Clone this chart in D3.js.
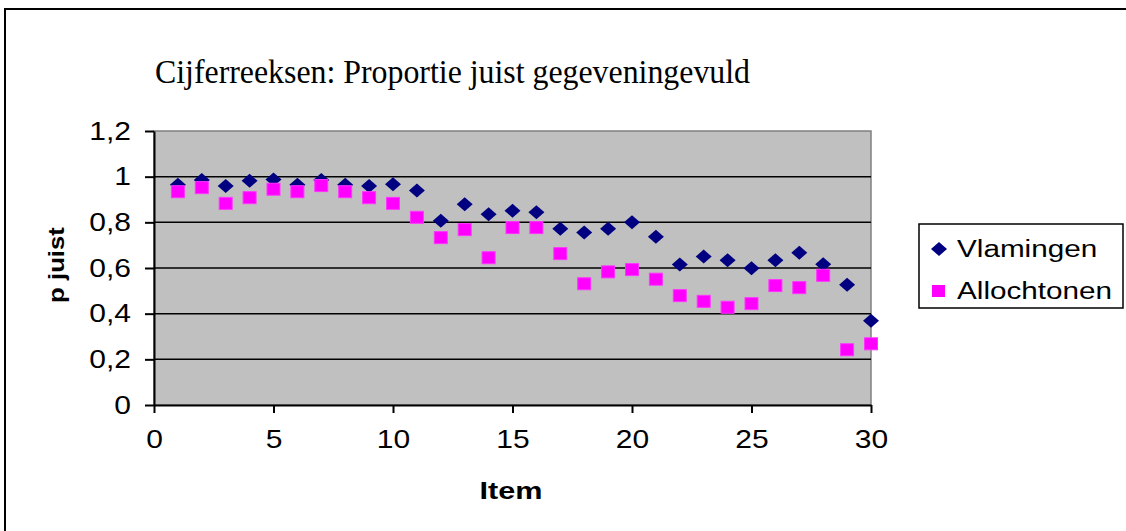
<!DOCTYPE html>
<html>
<head>
<meta charset="utf-8">
<script src="https://cdn.jsdelivr.net/npm/d3@7"></script>
<style>
  body { margin: 0; background: #fff; }
  text { font-family: Arial, "Liberation Sans", sans-serif; }
</style>
</head>
<body>
<svg id="drawing_region"></svg>
<script>
// data
const items = d3.range(1, 31);
const vlamingen = [0.965, 0.985, 0.959, 0.982, 0.988, 0.965, 0.985, 0.965, 0.959, 0.967,
                   0.939, 0.807, 0.879, 0.835, 0.851, 0.844, 0.772, 0.755, 0.772, 0.800,
                   0.737, 0.615, 0.650, 0.634, 0.599, 0.634, 0.667, 0.616, 0.527, 0.369];
const allochtonen = [0.934, 0.952, 0.883, 0.908, 0.945, 0.934, 0.961, 0.934, 0.908, 0.883,
                     0.822, 0.733, 0.768, 0.645, 0.777, 0.777, 0.663, 0.531, 0.583, 0.593,
                     0.551, 0.479, 0.454, 0.428, 0.444, 0.523, 0.514, 0.568, 0.242, 0.268];
const xTicks = [0, 5, 10, 15, 20, 25, 30];
const yTicks = [0, 0.2, 0.4, 0.6, 0.8, 1, 1.2];
const seriesNames = ["Vlamingen", "Allochtonen"];

const W = 1126, H = 531;
const margin = {top: 131, right: 255, bottom: 126, left: 154};
const innerW = W - margin.left - margin.right;
const innerH = H - margin.top - margin.bottom;

// the source picture has its text stretched sideways
function stretch(sel, k) {
    sel.each(function () {
        const len = this.getComputedTextLength();
        d3.select(this)
            .attr('textLength', len * k)
            .attr('lengthAdjust', 'spacingAndGlyphs');
    });
}

const svg = d3.select('#drawing_region')
    .attr('width', W)
    .attr('height', H);

// outer frame (top and left edges visible)
svg.append('path')
    .attr('d', `M5,${H} L5,9 L${W},9`)
    .attr('fill', 'none')
    .attr('stroke', '#000')
    .attr('stroke-width', 2);

svg.append('text')
    .attr('x', 155)
    .attr('y', 83)
    .attr('textLength', 595)
    .attr('lengthAdjust', 'spacingAndGlyphs')
    .style('font-family', '"Liberation Serif", "Times New Roman", serif')
    .style('font-size', '33px')
    .text('Cijferreeksen: Proportie juist gegeveningevuld');

const chart = svg.append('g')
    .attr('transform', `translate(${margin.left}, ${margin.top})`);

const xscale = d3.scaleLinear().domain([0, 30]).range([0, innerW]);
const yscale = d3.scaleLinear().domain([0, 1.2]).range([innerH, 0]);

chart.append('rect')
    .attr('width', innerW)
    .attr('height', innerH)
    .attr('fill', '#c0c0c0')
    .attr('stroke', '#808080')
    .attr('stroke-width', 1.5);

// gridlines
chart.selectAll('.grid')
    .data(yTicks.filter(d => d > 0 && d < 1.2))
    .enter()
    .append('line')
    .attr('x1', 0)
    .attr('x2', innerW)
    .attr('y1', d => yscale(d))
    .attr('y2', d => yscale(d))
    .attr('stroke', '#000')
    .attr('stroke-width', 1.5);

const fmt = d => String(+d.toFixed(1)).replace('.', ',');

const xaxis = d3.axisBottom(xscale).tickValues(xTicks).tickSize(8).tickSizeOuter(0).tickPadding(17);
const yaxis = d3.axisLeft(yscale).tickValues(yTicks).tickFormat(fmt).tickSize(9).tickSizeOuter(0).tickPadding(14);

const xg = chart.append('g')
    .attr('transform', `translate(0, ${innerH})`)
    .call(xaxis);
const yg = chart.append('g').call(yaxis);

[xg, yg].forEach(g => {
    g.selectAll('path, line').attr('stroke', '#000').attr('stroke-width', 2);
    g.selectAll('text')
        .attr('fill', '#000')
        .style('font-size', '25px')
        .style('font-family', 'Arial, "Liberation Sans", sans-serif');
    stretch(g.selectAll('text'), 1.2);
});

const xlab = svg.append('text')
    .attr('x', 511)
    .attr('y', 499)
    .attr('text-anchor', 'middle')
    .style('font-size', '23px')
    .style('font-weight', 'bold')
    .text('Item');
stretch(xlab, 1.33);

const ylab = svg.append('text')
    .attr('transform', `translate(64, ${margin.top + innerH / 2 - 3}) rotate(-90)`)
    .attr('text-anchor', 'middle')
    .style('font-size', '22px')
    .style('font-weight', 'bold')
    .text('p juist');
stretch(ylab, 1.17);

// Vlamingen
chart.selectAll('.vl')
    .data(items)
    .enter()
    .append('path')
    .attr('d', 'M0,-7 L8,0 L0,7 L-8,0 Z')
    .attr('transform', (d, i) => `translate(${xscale(d)}, ${yscale(vlamingen[i])})`)
    .attr('fill', '#000080');

// Allochtonen
chart.selectAll('.al')
    .data(items)
    .enter()
    .append('rect')
    .attr('x', d => xscale(d) - 6.5)
    .attr('y', (d, i) => yscale(allochtonen[i]) - 6)
    .attr('width', 13)
    .attr('height', 12)
    .attr('fill', '#ff00ff')
    .attr('stroke', '#ff33ff')
    .attr('stroke-width', 1);

// legend
const legend = svg.append('g').attr('transform', 'translate(919, 224)');
legend.append('rect')
    .attr('width', 204)
    .attr('height', 84)
    .attr('fill', '#fff')
    .attr('stroke', '#000')
    .attr('stroke-width', 1.5);

const rows = legend.selectAll('.row')
    .data(seriesNames)
    .enter()
    .append('g')
    .attr('transform', (d, i) => `translate(0, ${25 + i * 42})`);

rows.filter((d, i) => i === 0).append('path')
    .attr('d', 'M0,-7 L8,0 L0,7 L-8,0 Z')
    .attr('transform', 'translate(20, 0)')
    .attr('fill', '#000080');

rows.filter((d, i) => i === 1).append('rect')
    .attr('x', 13).attr('y', -6)
    .attr('width', 13).attr('height', 12)
    .attr('fill', '#ff00ff');

const ltext = rows.append('text')
    .attr('x', 38)
    .attr('y', 8)
    .style('font-size', '23px')
    .text(d => d);
stretch(ltext, 1.29);
</script>
</body>
</html>
